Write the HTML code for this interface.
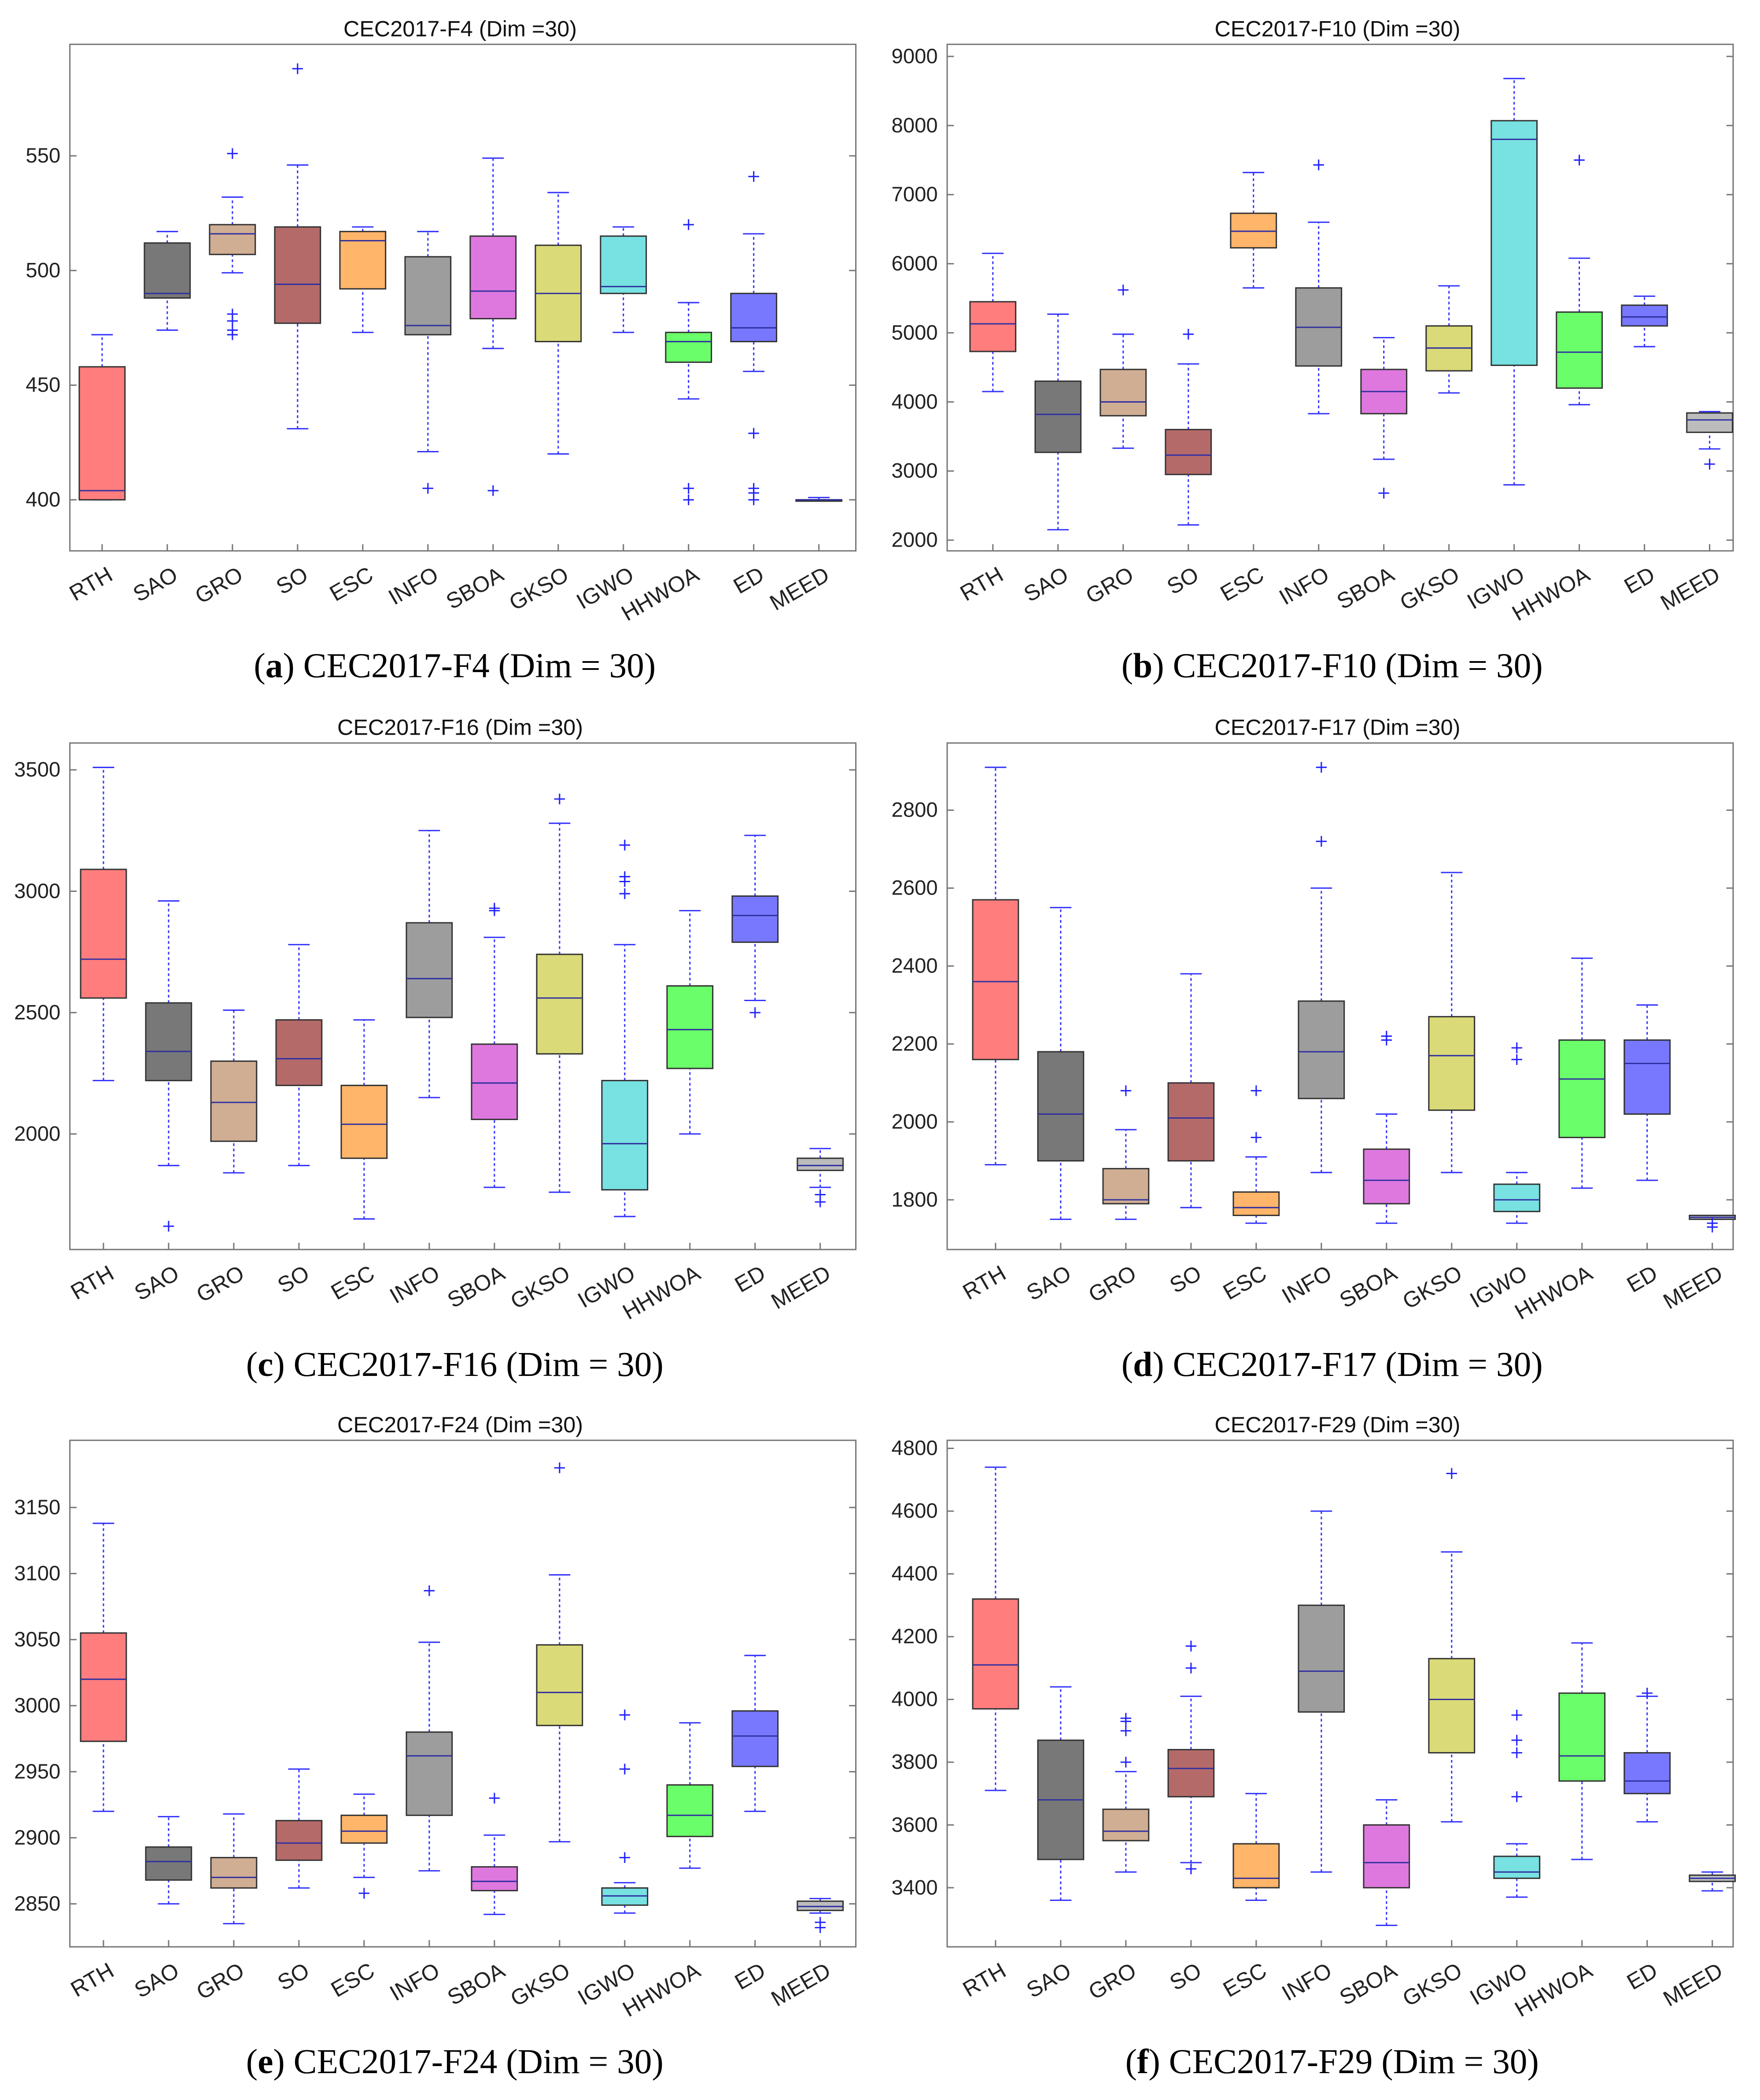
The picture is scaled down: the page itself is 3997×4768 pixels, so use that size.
<!DOCTYPE html>
<html><head><meta charset="utf-8"><style>
html,body{margin:0;padding:0;background:#fff}
svg{display:block}
</style></head><body>
<svg id="fig" xmlns="http://www.w3.org/2000/svg" width="3997" height="4768" viewBox="0 0 1310 1563" preserveAspectRatio="none">
<rect x="0" y="0" width="1310" height="1563" fill="#fff"/>
</svg>
<script>
const cats = ["RTH","SAO","GRO","SO","ESC","INFO","SBOA","GKSO","IGWO","HHWOA","ED","MEED"];
// [lowWhisker, q1, median, q3, highWhisker]
const f4Stats = [[400,400,404,458,472],[474,488,490,512,517],[499,507,516,520,532],[431,477,494,519,546],[473,492,513,517,519],[421,472,476,506,517],[466,479,491,515,549],[420,469,490,511,534],[473,490,493,515,519],[444,460,469,473,486],[456,469,475,490,516],[400,400,400,400,401]];
const f4Out = [[],[],[551,481,478,474,472],[588],[],[405],[404],[],[],[520,405,400],[541,429,405,403,400],[]];
const f10Stats = [[4150,4730,5130,5450,6150],[2150,3270,3820,4300,5270],[3330,3800,4000,4470,4980],[2220,2950,3230,3600,4550],[5650,6230,6470,6730,7320],[3830,4520,5080,5650,6600],[3170,3830,4150,4470,4930],[4130,4450,4780,5100,5680],[2800,4530,7800,8070,8680],[3960,4200,4720,5300,6080],[4800,5100,5230,5400,5530],[3320,3560,3740,3840,3860]];
const f10Out = [[],[],[5620],[4980],[],[7430],[2680],[],[],[7500],[],[3100]];
const f16Stats = [[2220,2560,2720,3090,3510],[1870,2220,2340,2540,2960],[1840,1970,2130,2300,2510],[1870,2200,2310,2470,2780],[1650,1900,2040,2200,2470],[2150,2480,2640,2870,3250],[1780,2060,2210,2370,2810],[1760,2330,2560,2740,3280],[1660,1770,1960,2220,2780],[2000,2270,2430,2610,2920],[2550,2790,2900,2980,3230],[1780,1850,1870,1900,1940]];
const f16Out = [[],[1620],[],[],[],[],[2920,2930],[3380],[3190,3060,3040,2990],[],[2500],[1750,1720]];
const f17Stats = [[1890,2160,2360,2570,2910],[1750,1900,2020,2180,2550],[1750,1790,1800,1880,1980],[1780,1900,2010,2100,2380],[1740,1760,1780,1820,1910],[1870,2060,2180,2310,2600],[1740,1790,1850,1930,2020],[1870,2030,2170,2270,2640],[1740,1770,1800,1840,1870],[1830,1960,2110,2210,2420],[1850,2020,2150,2210,2300],[1750,1750,1755,1760,1760]];
const f17Out = [[],[],[2080],[],[1960,2080],[2720,2910],[2210,2220],[],[2160,2190],[],[],[1730,1740]];
const f24Stats = [[2920,2973,3020,3055,3138],[2850,2868,2882,2893,2916],[2835,2862,2870,2885,2918],[2862,2883,2896,2913,2952],[2870,2896,2905,2917,2933],[2875,2917,2962,2980,3048],[2842,2860,2867,2878,2902],[2897,2985,3010,3046,3099],[2843,2849,2856,2862,2866],[2877,2901,2917,2940,2987],[2920,2954,2977,2996,3038],[2843,2845,2848,2852,2854]];
const f24Out = [[],[],[],[],[2858],[3087],[2930],[3180],[2993,2952,2885],[],[],[2836,2832]];
const f29Stats = [[3710,3970,4110,4320,4740],[3360,3490,3680,3870,4040],[3450,3550,3580,3650,3770],[3480,3690,3780,3840,4010],[3360,3400,3430,3540,3700],[3450,3960,4090,4300,4600],[3280,3400,3480,3600,3680],[3610,3830,4000,4130,4470],[3370,3430,3450,3500,3540],[3490,3740,3820,4020,4180],[3610,3700,3740,3830,4010],[3390,3420,3430,3440,3450]];
const f29Out = [[],[],[3800,3900,3930,3940],[4100,4170,3460],[],[],[],[4720],[3690,3830,3870,3950],[],[4020],[]];
const f4Ticks = [400,450,500,550];
const f10Ticks = [2000,3000,4000,5000,6000,7000,8000,9000];
const f16Ticks = [2000,2500,3000,3500];
const f17Ticks = [1800,2000,2200,2400,2600,2800];
const f24Ticks = [2850,2900,2950,3000,3050,3100,3150];
const f29Ticks = [3400,3600,3800,4000,4200,4400,4600,4800];

const fills = ["#ff6666","#606060","#c8a080","#a85050","#ffa850","#8c8c8c","#d860d8","#d4d460","#60dcdc","#50ff50","#6060ff","#b0b0b0"];
const NS = "http://www.w3.org/2000/svg";
const svg = document.getElementById("fig");
function mk(tag, attrs, parent){const e=document.createElementNS(NS,tag);for(const k in attrs)e.setAttribute(k,attrs[k]);(parent||svg).appendChild(e);return e;}

const panels = [
 {id:"f4",letter:"a",name:"F4",stats:f4Stats,out:f4Out,ticks:f4Ticks,x0:52,y0:33,cx0:76,r:[400,372,550,116]},
 {id:"f10",letter:"b",name:"F10",stats:f10Stats,out:f10Out,ticks:f10Ticks,x0:705,y0:33,cx0:739,r:[2000,402,9000,42]},
 {id:"f16",letter:"c",name:"F16",stats:f16Stats,out:f16Out,ticks:f16Ticks,x0:52,y0:553,cx0:77,r:[2000,844,3500,573]},
 {id:"f17",letter:"d",name:"F17",stats:f17Stats,out:f17Out,ticks:f17Ticks,x0:705,y0:553,cx0:741,r:[1800,893,2800,603]},
 {id:"f24",letter:"e",name:"F24",stats:f24Stats,out:f24Out,ticks:f24Ticks,x0:52,y0:1072,cx0:77,r:[2850,1417,3150,1122]},
 {id:"f29",letter:"f",name:"F29",stats:f29Stats,out:f29Out,ticks:f29Ticks,x0:705,y0:1072,cx0:741,r:[3400,1405,4800,1078]}
];
const W=585,H=377,SP=48.5,BW=34;
panels.forEach(p=>{
 const g=mk("g",{});
 
 
 const y=v=>p.r[1]+(v-p.r[0])*(p.r[3]-p.r[1])/(p.r[2]-p.r[0]);
 const x=i=>p.cx0+i*SP;
 const fr=mk("rect",{x:p.x0,y:p.y0,width:W,height:H,fill:"#fff",stroke:"#777","stroke-width":1},g);
 
 
 const t=mk("text",{x:p.x0+W/2-2,y:p.y0-6,"text-anchor":"middle","font-family":"Liberation Sans, sans-serif","font-size":16.5,fill:"#111"},g);
 t.textContent="CEC2017-"+p.name+" (Dim =30)";
 
 
 p.ticks.forEach(v=>{
  const yy=y(v);
  mk("line",{x1:p.x0,x2:p.x0+5,y1:yy,y2:yy,stroke:"#777"},g);
  mk("line",{x1:p.x0+W,x2:p.x0+W-5,y1:yy,y2:yy,stroke:"#777"},g);
  const tl=mk("text",{x:p.x0-7,y:yy+5,"text-anchor":"end","font-family":"Liberation Sans, sans-serif","font-size":15.5,fill:"#222"},g);
  tl.textContent=v;
  
  
 });
 cats.forEach((c,i)=>{
  const cx=x(i), s=p.stats[i];
  mk("line",{x1:cx,x2:cx,y1:p.y0+H,y2:p.y0+H-5,stroke:"#777"},g);
  const bg=mk("g",{},g);
  
  
  mk("line",{x1:cx,x2:cx,y1:y(s[0]),y2:y(s[1]),stroke:"#3333ff","stroke-width":1,"stroke-dasharray":"2,2"},bg);
  mk("line",{x1:cx,x2:cx,y1:y(s[3]),y2:y(s[4]),stroke:"#3333ff","stroke-width":1,"stroke-dasharray":"2,2"},bg);
  mk("line",{x1:cx-8,x2:cx+8,y1:y(s[0]),y2:y(s[0]),stroke:"#3333ff","stroke-width":1},bg);
  mk("line",{x1:cx-8,x2:cx+8,y1:y(s[4]),y2:y(s[4]),stroke:"#3333ff","stroke-width":1},bg);
  mk("rect",{x:cx-BW/2,y:y(s[3]),width:BW,height:Math.max(1,y(s[1])-y(s[3])),fill:fills[i],"fill-opacity":0.85,stroke:"#333","stroke-width":1},bg);
  mk("line",{x1:cx-BW/2,x2:cx+BW/2,y1:y(s[2]),y2:y(s[2]),stroke:"#3030a0","stroke-width":1},bg);
  p.out[i].forEach(o=>{
   const oy=y(o);
   const pt=mk("path",{d:`M${cx-4},${oy}h8M${cx},${oy-4}v8`,stroke:"#2222ff","stroke-width":1,fill:"none"},bg);
   
   
  });
  const lx=cx+9, ly=p.y0+H+21;
  const xl=mk("text",{x:lx,y:ly,"text-anchor":"end","font-family":"Liberation Sans, sans-serif","font-size":16.5,fill:"#222",transform:`rotate(-30 ${lx} ${ly})`},g);
  xl.textContent=c;
  
  
 });
 const cap=mk("text",{x:p.x0+W/2-6,y:p.y0+H+94,"text-anchor":"middle","font-family":"Liberation Serif, serif","font-size":26,fill:"#000"},g);
 
 
 const t1=mk("tspan",{},cap);t1.textContent="(";
 const t2=mk("tspan",{"font-weight":"bold"},cap);t2.textContent=p.letter;
 const t3=mk("tspan",{},cap);t3.textContent=") CEC2017-"+p.name+" (Dim = 30)";
});
</script>
</body></html>
